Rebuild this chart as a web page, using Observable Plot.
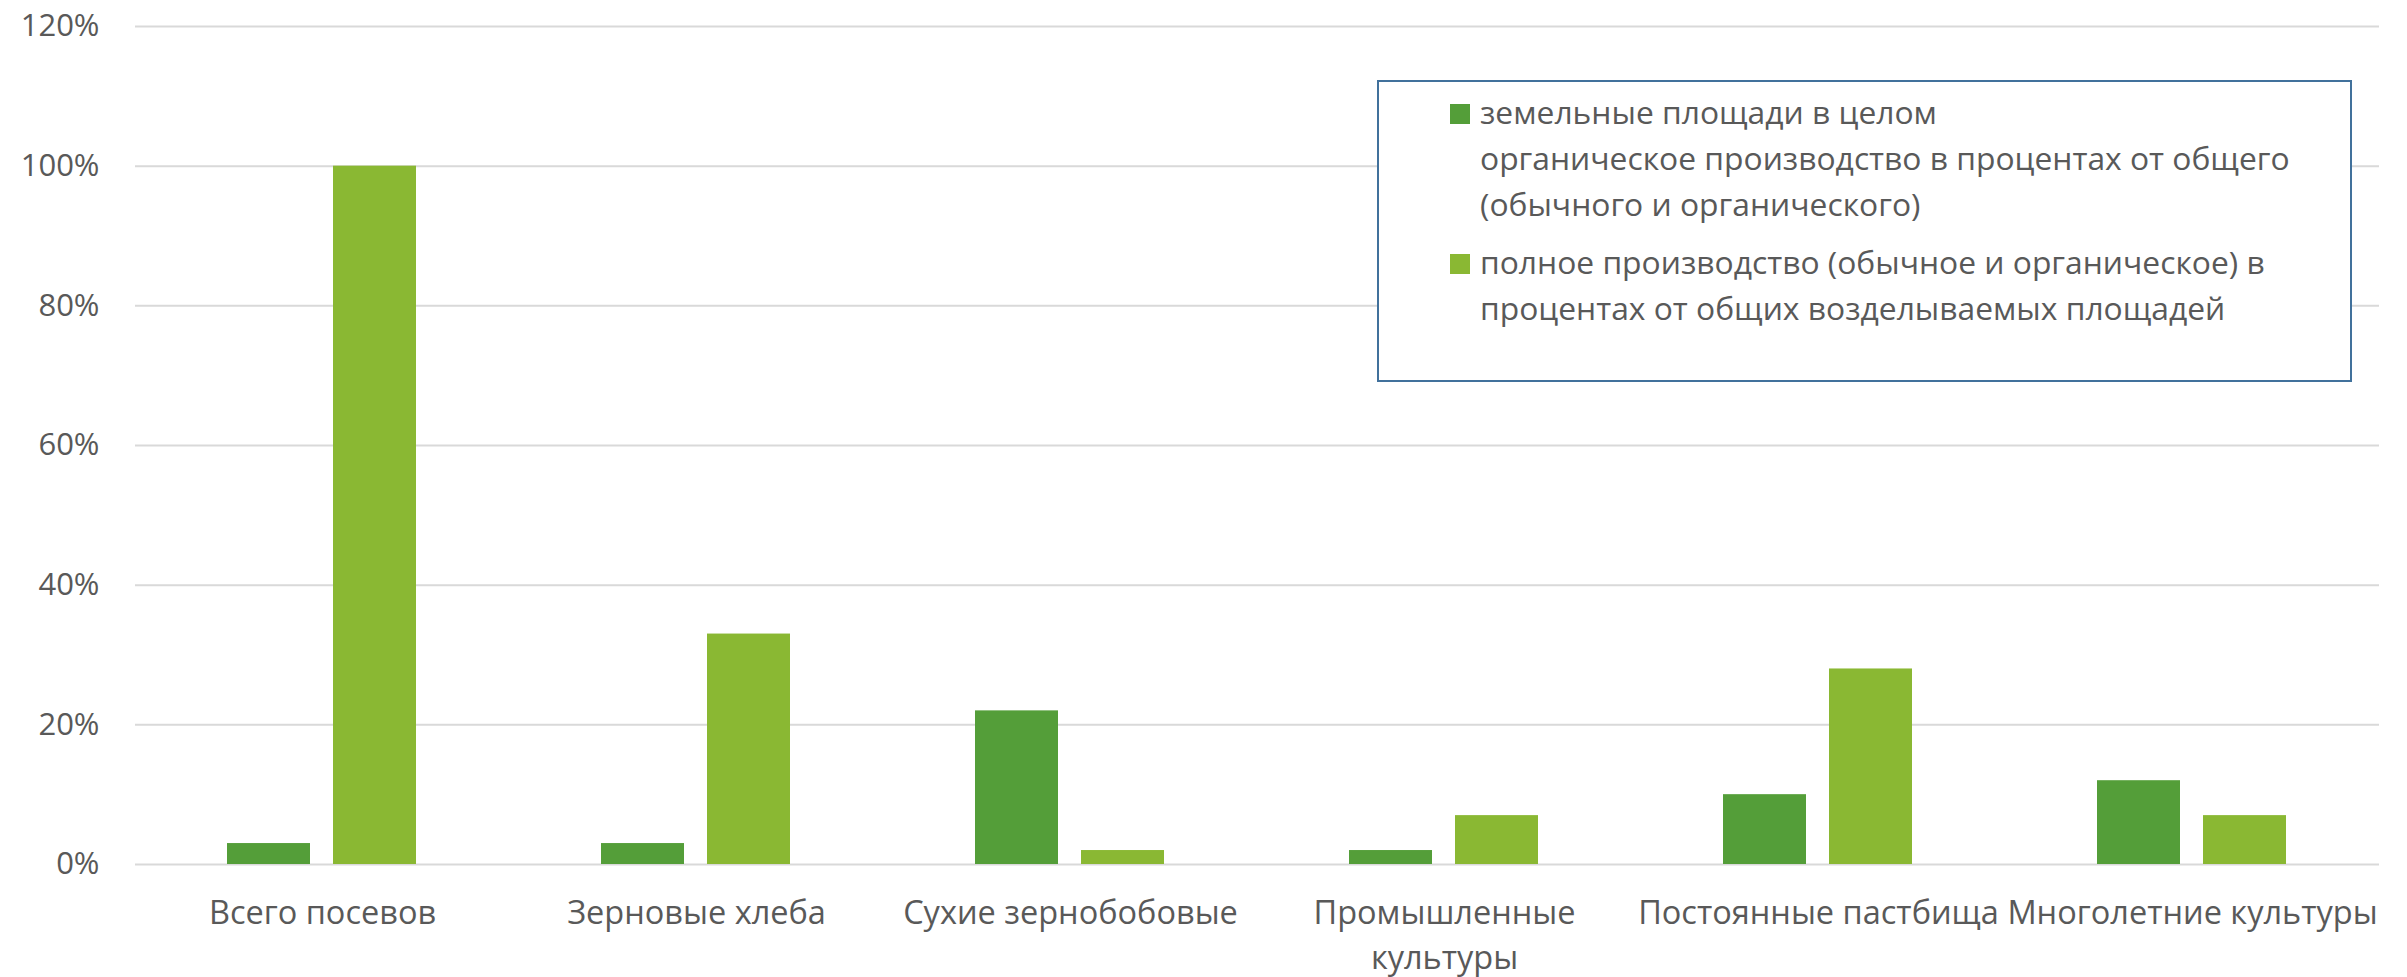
<!DOCTYPE html>
<html><head><meta charset="utf-8">
<script src="https://cdn.jsdelivr.net/npm/d3@7"></script>
<script src="https://cdn.jsdelivr.net/npm/@observablehq/plot@0.6"></script>
<style>
body{margin:0;background:#fff;font-family:"Open Sans",sans-serif;}
#wrap{position:relative;width:2407px;height:977px;}
#legend{position:absolute;left:1377px;top:80px;width:971px;border:2px solid #41719C;background:#fff;color:#595959;font-size:31.8px;line-height:46px;padding-top:7px;box-sizing:content-box;height:291px;}
.item{position:relative;padding-left:101px;white-space:pre-line;margin-bottom:12px;}
.sw{position:absolute;left:71px;top:15px;width:20px;height:20px;}
</style></head>
<body><div id="wrap"><div id="chart"></div><div id="legend"></div></div>
<script>
const categories = ["Всего посевов","Зерновые хлеба","Сухие зернобобовые","Промышленные культуры","Постоянные пастбища","Многолетние культуры"];
const xLabels = ["Всего посевов","Зерновые хлеба","Сухие зернобобовые","Промышленные\nкультуры","Постоянные пастбища","Многолетние культуры"];
const series = ["земельные площади в целом\nорганическое производство в процентах от общего\n(обычного и органического)","полное производство (обычное и органическое) в\nпроцентах от общих возделываемых площадей"];
const organicShare = [3,3,22,2,10,12];
const totalShare = [100,33,2,7,28,7];
const yTicks = [0,20,40,60,80,100,120];
const colors = ["#549E39","#8AB833"];

const data = categories.flatMap((c,i)=>[
  {category:c, series:series[0], value:organicShare[i]},
  {category:c, series:series[1], value:totalShare[i]}
]);

const chart = Plot.plot({
  width:2407, height:977,
  marginLeft:133, marginRight:26, marginTop:26, marginBottom:113,
  style:{fontFamily:"Open Sans", fontSize:"31px", color:"#595959", background:"white", overflow:"visible"},
  fx:{domain:categories, padding:0, label:null},
  x:{domain:series, axis:null, paddingInner:0.215, paddingOuter:0.86},
  y:{domain:[0,120], label:null},
  color:{domain:series, range:colors},
  marks:[
    Plot.ruleY(yTicks, {stroke:"#d9d9d9", strokeWidth:2}),
    Plot.barY(data, {fx:"category", x:"series", y:"value", fill:"series"}),
    Plot.axisY({ticks:yTicks, tickFormat:d=>d+"%", tickSize:0, tickPadding:36, fill:"#595959", label:null}),
    Plot.axisFx({anchor:"bottom", tickSize:0, tickPadding:27, lineHeight:1.4, fontSize:32.5, fill:"#595959", label:null,
      tickFormat:c=>xLabels[categories.indexOf(c)]})
  ]
});
document.getElementById("chart").appendChild(chart);

const legend = document.getElementById("legend");
series.forEach((s,i)=>{
  const it = document.createElement("div");
  it.className="item";
  const sw = document.createElement("span");
  sw.className="sw"; sw.style.background=colors[i];
  it.appendChild(sw);
  it.appendChild(document.createTextNode(s));
  legend.appendChild(it);
});
</script>
</body></html>
